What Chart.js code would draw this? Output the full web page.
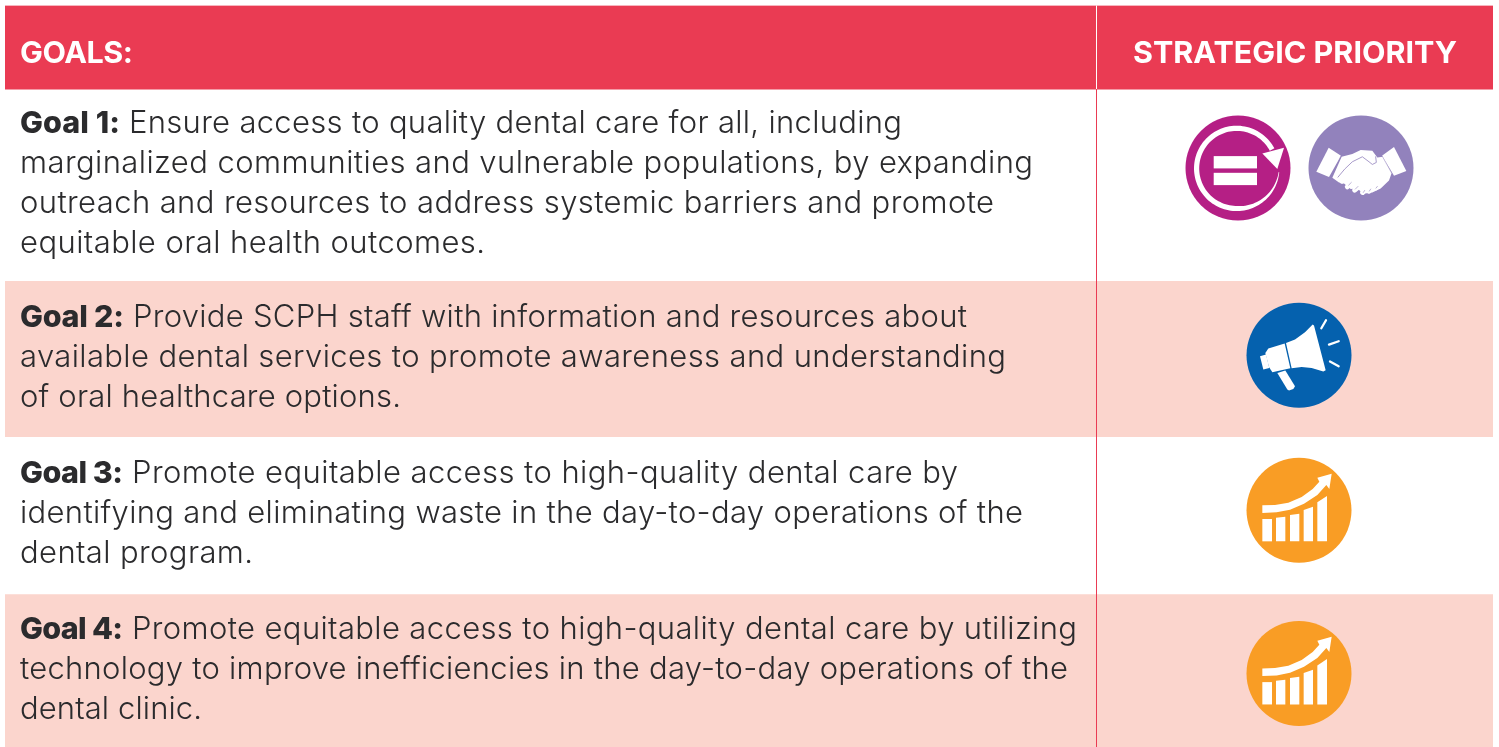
<!DOCTYPE html>
<html>
<head>
<meta charset="utf-8">
<title>Goals and strategic priority</title>
<script src="https://cdn.jsdelivr.net/npm/chart.js@4"></script>
<style>
  html, body { margin: 0; padding: 0; background: #ffffff; overflow: hidden; }
  canvas { display: block; }
</style>
</head>
<body>
<canvas id="goalsChart" width="1499" height="747"></canvas>
<script>
// table rows, top to bottom: heights on the y scale
const rowNames = ["Header", "Goal 1", "Goal 2", "Goal 3", "Goal 4"];
const rowHeights = [83.5, 191.5, 156, 157, 153];
const rowColors = ["#ea3b53", "#ffffff", "#fbd5cd", "#ffffff", "#fbd5cd"];

// header texts
const headerGoals = "GOALS:";
const headerPriority = "STRATEGIC PRIORITY";

// goal texts, line by line. first line follows the bold label
const goalLabels = ["Goal 1:", "Goal 2:", "Goal 3:", "Goal 4:"];
const goalLines = [
  ["Ensure access to quality dental care for all, including",
   "marginalized communities and vulnerable populations, by expanding",
   "outreach and resources to address systemic barriers and promote",
   "equitable oral health outcomes."],
  ["Provide SCPH staff with information and resources about",
   "available dental services to promote awareness and understanding",
   "of oral healthcare options."],
  ["Promote equitable access to high-quality dental care by",
   "identifying and eliminating waste in the day-to-day operations of the",
   "dental program."],
  ["Promote equitable access to high-quality dental care by utilizing",
   "technology to improve inefficiencies in the day-to-day operations of the",
   "dental clinic."]
];

// where each line has to end, px
const labelEnds = [120, 124, 123, 123];
const firstLineStarts = [129, 133, 132, 132];
const lineEnds = [
  [902, 1033, 994, 485],
  [967, 1006, 401],
  [958, 1023, 253],
  [1077, 1068, 202]
];
const firstBaselines = [133, 327, 483, 639];

// priority icons: position on the scales, radius and colour
const iconNames = ["equal", "hands", "megaphone", "growth", "growth"];
const iconX = [1238, 1361, 1299, 1299, 1299];
const iconY = [162.5, 162.5, 349.5, 504.5, 667.5];
const iconColors = ["#b51f85", "#9282bc", "#0561ae", "#f99d25", "#f99d25"];
const iconRadius = 52.5;

const tableLeft = 5;
const tableRight = 1493;
const dividerX = 1096;
const textFont = '"Inter"';
const textColor = "#2b2b2d";
const lineGap = 40;

function poly(ctx, pts, ox, oy) {
  ctx.beginPath();
  pts.forEach((p, i) => {
    const x = (p[0] - ox) / 3;
    const y = (p[1] - oy) / 3;
    if (i === 0) ctx.moveTo(x, y);
    else ctx.lineTo(x, y);
  });
}

function fillPoly(ctx, pts, ox, oy) {
  poly(ctx, pts, ox, oy);
  ctx.closePath();
  ctx.fill();
}

function strokePoly(ctx, pts, ox, oy, width) {
  poly(ctx, pts, ox, oy);
  ctx.lineWidth = width;
  ctx.lineCap = "round";
  ctx.lineJoin = "round";
  ctx.stroke();
}

// glyphs are traced in 3x crop coordinates, ox/oy is the circle centre there
const glyphs = {
  equal(ctx) {
    const ox = 174, oy = 189;
    ctx.fillRect(-24.3, -12, 43.3, 12.3);
    ctx.fillRect(-24.3, 4.7, 43.3, 12.3);
    // ring gets thicker towards the arrow
    const outer = [], inner = [];
    for (let a = 5; a <= 334; a += 3) {
      const t = (a * Math.PI) / 180;
      const w = Math.min(5.2, 0.3 + (a / 90) * 4.9);
      outer.push([-1.3 + 42.7 * Math.cos(t), 0.3 + 42.7 * Math.sin(t)]);
      inner.push([-1.3 + (42.7 - w) * Math.cos(t), 0.3 + (42.7 - w) * Math.sin(t)]);
    }
    ctx.beginPath();
    outer.forEach((p, i) => (i ? ctx.lineTo(p[0], p[1]) : ctx.moveTo(p[0], p[1])));
    inner.reverse().forEach((p) => ctx.lineTo(p[0], p[1]));
    ctx.closePath();
    ctx.fill();
    fillPoly(ctx, [[312, 128], [247, 145], [292, 192]], ox, oy);
  },
  hands(ctx, color) {
    const ox = 541, oy = 189;
    fillPoly(ctx, [[444, 128], [481, 152], [445, 216], [407, 200]], ox, oy);
    fillPoly(ctx, [[640, 126], [677, 198], [640, 212], [604, 152]], ox, oy);
    fillPoly(ctx, [[483, 155], [515, 147], [540, 135], [575, 137], [590, 157], [607, 155],
      [633, 204], [625, 226], [600, 250], [575, 262], [548, 266], [530, 250], [510, 252],
      [490, 235], [475, 232], [455, 218]], ox, oy);
    // fingers along the bottom
    [[[500, 212], [484, 228]], [[520, 226], [500, 245]], [[540, 240], [522, 255]],
     [[559, 244], [546, 262]], [[578, 240], [565, 258]], [[598, 232], [586, 248]],
     [[615, 220], [603, 232]]].forEach((f) => strokePoly(ctx, f, ox, oy, 5));
    ctx.strokeStyle = color;
    strokePoly(ctx, [[472, 216], [492, 192], [515, 170], [545, 155], [565, 170], [575, 178],
      [587, 172], [585, 155]], ox, oy, 0.8);
    strokePoly(ctx, [[604, 152], [633, 204]], ox, oy, 0.5);
    strokePoly(ctx, [[481, 152], [457, 205]], ox, oy, 0.5);
    [[[512, 232], [504, 240]], [[532, 244], [524, 252]], [[552, 256], [548, 262]],
     [[570, 252], [566, 258]], [[590, 244], [586, 249]]]
      .forEach((f) => strokePoly(ctx, f, ox, oy, 0.6));
    ctx.strokeStyle = "#ffffff";
  },
  megaphone(ctx) {
    const ox = 177, oy = 177;
    fillPoly(ctx, [[138, 140], [165, 130], [195, 108], [218, 85], [222, 88], [257, 222],
      [250, 226], [215, 215], [185, 212], [155, 216]], ox, oy);
    fillPoly(ctx, [[134, 142], [85, 157], [76, 170], [87, 212], [97, 228], [151, 216]], ox, oy);
    fillPoly(ctx, [[60, 180], [78, 175], [88, 215], [70, 220]], ox, oy);
    fillPoly(ctx, [[112, 230], [136, 223], [165, 270], [160, 278], [147, 283], [142, 280]], ox, oy);
    strokePoly(ctx, [[258, 72], [244, 96]], ox, oy, 2.3);
    strokePoly(ctx, [[267, 145], [296, 135]], ox, oy, 2.3);
    strokePoly(ctx, [[270, 196], [296, 210]], ox, oy, 2.3);
  },
  growth(ctx) {
    const ox = 237, oy = 210;
    fillPoly(ctx, [[127, 236], [156, 236], [156, 303], [127, 303]], ox, oy);
    fillPoly(ctx, [[168, 232], [196, 229], [196, 303], [168, 303]], ox, oy);
    fillPoly(ctx, [[210, 224], [238, 220], [238, 303], [210, 303]], ox, oy);
    fillPoly(ctx, [[251, 209], [279, 199], [279, 303], [251, 303]], ox, oy);
    fillPoly(ctx, [[292, 186], [321, 167], [321, 303], [292, 303]], ox, oy);
    fillPoly(ctx, [[127, 195], [165, 194], [205, 187], [245, 170], [278, 146], [298, 124],
      [292, 112], [335, 100], [328, 146], [319, 134], [292, 164], [252, 190], [210, 208],
      [170, 216], [127, 218]], ox, oy);
  }
};

// text is stretched a little so every line ends where it does in the table
function fitText(ctx, text, x, y, endX) {
  ctx.letterSpacing = "0px";
  const w = ctx.measureText(text).width;
  const extra = (endX - x - w) / (text.length - 1);
  ctx.letterSpacing = extra.toFixed(3) + "px";
  ctx.fillText(text, x, y);
  ctx.letterSpacing = "0px";
}

const tablePlugin = {
  id: "tablePlugin",
  afterDatasetsDraw(chart) {
    const ctx = chart.ctx;
    const area = chart.chartArea;
    const yScale = chart.scales.y;
    const headerBottom = yScale.getPixelForValue(rowHeights[0]);

    ctx.save();
    ctx.fillStyle = "#ffffff";
    ctx.fillRect(dividerX, area.top, 1, headerBottom - area.top);
    ctx.fillStyle = rowColors[0];
    ctx.fillRect(dividerX, headerBottom, 1, area.bottom - headerBottom);

    // icon glyphs on top of the bubbles
    const points = chart.getDatasetMeta(rowNames.length).data;
    points.forEach((pt, i) => {
      ctx.save();
      ctx.translate(pt.x, pt.y);
      ctx.fillStyle = "#ffffff";
      ctx.strokeStyle = "#ffffff";
      glyphs[iconNames[i]](ctx, iconColors[i]);
      ctx.restore();
    });

    ctx.textBaseline = "alphabetic";
    ctx.fillStyle = "#ffffff";
    ctx.font = "700 30.5px " + textFont;
    fitText(ctx, headerGoals, 20, 62.5, 133);
    fitText(ctx, headerPriority, 1133, 62.5, 1457);

    goalLines.forEach((lines, g) => {
      ctx.fillStyle = textColor;
      ctx.font = "800 30.5px " + textFont;
      fitText(ctx, goalLabels[g], 20, firstBaselines[g], labelEnds[g]);
      ctx.font = "300 31px " + textFont;
      lines.forEach((line, l) => {
        const x = l === 0 ? firstLineStarts[g] : 20;
        fitText(ctx, line, x, firstBaselines[g] + l * lineGap, lineEnds[g][l]);
      });
    });
    ctx.restore();
  }
};

const rowDatasets = rowNames.map((name, i) => ({
  type: "bar",
  label: name,
  data: [{ x: (tableLeft + tableRight) / 2, y: rowHeights[i] }],
  backgroundColor: rowColors[i],
  borderWidth: 0,
  barThickness: tableRight - tableLeft,
  stack: "table",
  order: 2
}));

new Chart(document.getElementById("goalsChart"), {
  data: {
    datasets: [
      ...rowDatasets,
      {
        type: "bubble",
        label: "Priority",
        data: iconX.map((x, i) => ({ x: x, y: iconY[i], r: iconRadius })),
        backgroundColor: iconColors,
        borderWidth: 0,
        order: 1
      }
    ]
  },
  options: {
    responsive: false,
    animation: false,
    layout: {
      autoPadding: false,
      padding: { left: tableLeft, right: 1499 - tableRight, top: 5.5, bottom: 0 }
    },
    plugins: {
      legend: { display: false },
      title: { display: false },
      tooltip: { enabled: false }
    },
    scales: {
      x: { type: "linear", display: false, offset: false, min: tableLeft, max: tableRight },
      y: {
        display: false,
        reverse: true,
        min: 0,
        max: rowHeights.reduce((a, b) => a + b, 0)
      }
    }
  },
  plugins: [tablePlugin]
});
</script>
</body>
</html>
